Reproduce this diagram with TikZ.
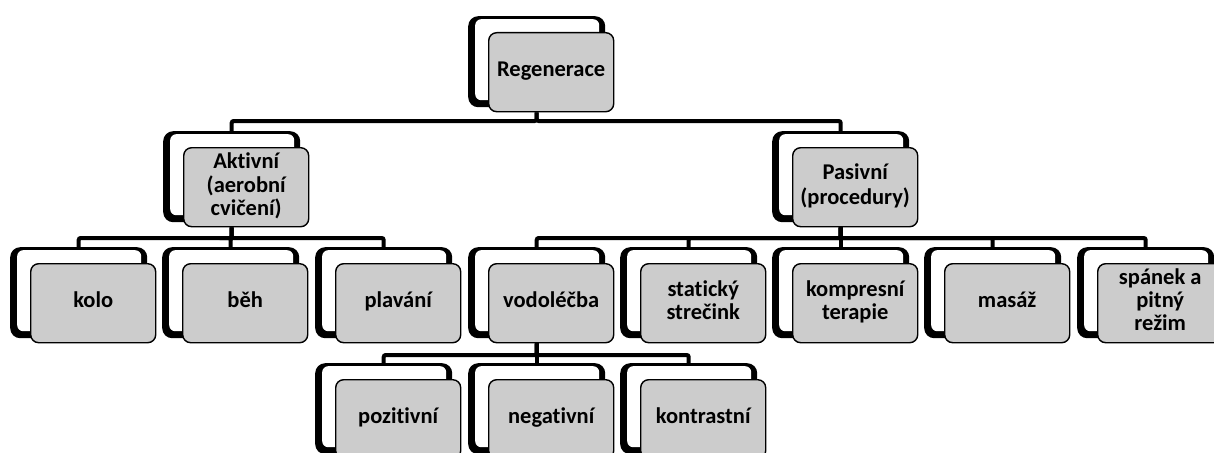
\documentclass[tikz,border=0pt]{standalone}
\usepackage{fontspec}
\setmainfont{Carlito}[BoldFont={Carlito Bold},Ligatures={NoCommon}]
\usetikzlibrary{backgrounds}
\newcommand\smbox[4]{%
  \node[backframe] (#1B) at (#2-20,#3-16) {};
  \node[frontbox] (#1) at (#2,#3) {\strut#4\strut};}
\begin{document}
\begin{tikzpicture}[x=1pt,y=-1pt,
  frontbox/.style={draw=black, line width=1.4pt, fill=black!20, rounded corners=8pt,
    minimum width=125pt, minimum height=79pt, inner sep=0pt, anchor=north west,
    align=center, font=\fontsize{22.5}{23}\selectfont\bfseries},
  backframe/.style={fill=black, rounded corners=10pt, minimum width=137pt,
    minimum height=91pt, inner sep=0pt, anchor=north west,
    path picture={\fill[white,rounded corners=6pt]
      ([xshift=7pt,yshift=-3pt]path picture bounding box.north west) rectangle
      ([xshift=-6pt,yshift=7pt]path picture bounding box.south east);}},
  conn/.style={line width=4pt, rounded corners=2pt}]
\useasboundingbox (0,0) rectangle (1214,452);
\clip (0,0) rectangle (1214,452);
\coordinate (bus1) at (0,121);
\coordinate (bus2) at (0,238);
\coordinate (bus3) at (0,355);
% level 0
\smbox{reg}{488}{32}{Regenerace}
% level 1
\smbox{akt}{183}{147}{Aktivní\\(aerobní\\cvičení)}
\smbox{pas}{792}{147}{Pasivní\\(procedury)}
% level 2
\smbox{kolo}{30}{263}{kolo}
\smbox{beh}{182}{263}{běh}
\smbox{plav}{335}{263}{plavání}
\smbox{vodo}{488}{263}{vodoléčba}
\smbox{stat}{640}{263}{statický\\strečink}
\smbox{komp}{792}{263}{kompresní\\terapie}
\smbox{masaz}{944}{263}{masáž}
\smbox{span}{1097}{263}{spánek a\\pitný\\režim}
% level 3
\smbox{poz}{335}{379}{pozitivní}
\smbox{neg}{488}{379}{negativní}
\smbox{kon}{640}{379}{kontrastní}
\begin{pgfonlayer}{background}
  \foreach \c in {akt,pas}
    \draw[conn] (regB |- reg.south) -- (regB |- bus1) -| (\c B.north);
  \foreach \c in {kolo,beh,plav}
    \draw[conn] (aktB |- akt.south) -- (aktB |- bus2) -| (\c B.north);
  \foreach \c in {vodo,stat,komp,masaz,span}
    \draw[conn] (pasB |- pas.south) -- (pasB |- bus2) -| (\c B.north);
  \foreach \c in {poz,neg,kon}
    \draw[conn] (vodoB |- vodo.south) -- (vodoB |- bus3) -| (\c B.north);
\end{pgfonlayer}
\end{tikzpicture}
\end{document}
